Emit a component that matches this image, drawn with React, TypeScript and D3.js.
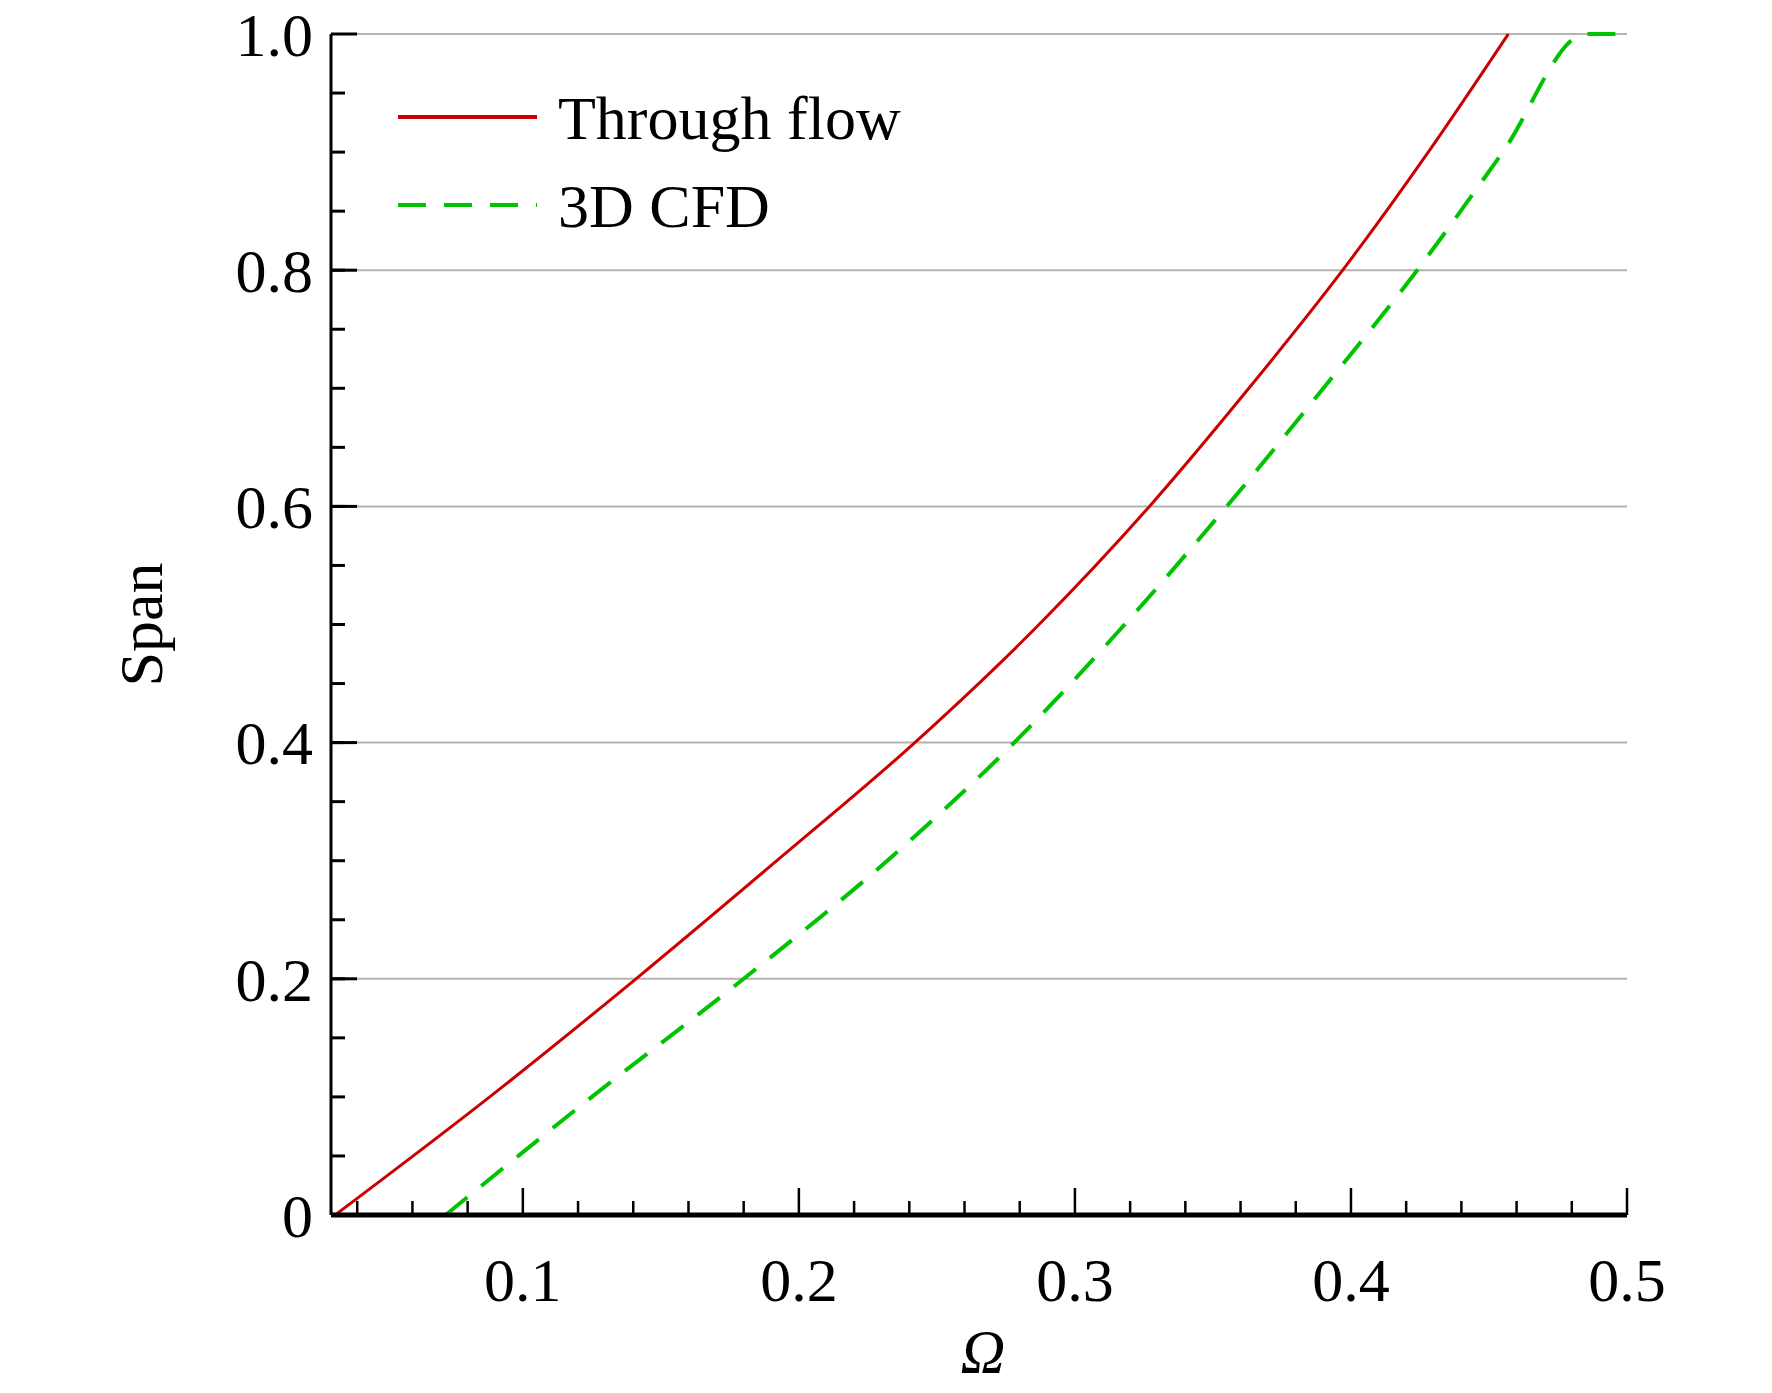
import * as d3 from "d3";
import React from "react";

const throughSpan = [0, 0.1, 0.2, 0.3, 0.4, 0.5, 0.6, 0.7, 0.8, 0.9, 1.0];
const throughOmega = [0.032, 0.088, 0.141, 0.192, 0.242, 0.287, 0.327, 0.363, 0.397, 0.428, 0.457];
const cfdSpan = [0, 0.1, 0.2, 0.3, 0.4, 0.5, 0.6, 0.7, 0.8, 0.9, 1.0, 1.0];
const cfdOmega = [0.072, 0.125, 0.18, 0.232, 0.278, 0.318, 0.355, 0.39, 0.424, 0.455, 0.485, 0.5];
const xTicks = [0.1, 0.2, 0.3, 0.4, 0.5];
const yTicks = [0, 0.2, 0.4, 0.6, 0.8, 1.0];

const W = 1772, H = 1393;
const left = 331, right = 1627, top = 34, bottom = 1215;
const font = "'Liberation Serif', 'Times New Roman', serif";

export default function App() {
  const x = d3.scaleLinear([0.0305, 0.5], [left, right]);
  const y = d3.scaleLinear([0, 1], [bottom, top]);
  const line = d3.line<[number, number]>().x((d) => x(d[0])).y((d) => y(d[1])).curve(d3.curveMonotoneX);
  const red = line(throughOmega.map((o, i) => [o, throughSpan[i]]) as [number, number][])!;
  const green = line(cfdOmega.map((o, i) => [o, cfdSpan[i]]) as [number, number][])!;
  const xMinor = d3.range(0.04, 0.5001, 0.02).filter((v) => Math.abs(v * 10 - Math.round(v * 10)) > 1e-6);
  const yMinor = d3.range(0.05, 1.0, 0.05);
  return (
    <svg width={W} height={H} style={{ display: "block", margin: -8 }} fontFamily={font}>
      <rect width={W} height={H} fill="white" />
      {yTicks.filter((t) => t > 0).map((t) => (
        <line key={t} x1={left} x2={right} y1={y(t)} y2={y(t)} stroke="#b3b3b3" strokeWidth={2} />
      ))}
      <path d={red} fill="none" stroke="#cc0000" strokeWidth={3} />
      <path d={green} fill="none" stroke="#00c400" strokeWidth={4} strokeDasharray="28 18" />
      {/* axes */}
      <line x1={left} x2={left} y1={top} y2={bottom} stroke="black" strokeWidth={3} />
      <line x1={left} x2={right} y1={bottom} y2={bottom} stroke="black" strokeWidth={5} />
      {yMinor.map((t) => (
        <line key={t} x1={left} x2={left + 14} y1={y(t)} y2={y(t)} stroke="black" strokeWidth={3} />
      ))}
      {yTicks.map((t) => (
        <g key={t}>
          <line x1={left} x2={left + 26} y1={y(t)} y2={y(t)} stroke="black" strokeWidth={3} />
          <text x={left - 18} y={y(t)} dy="0.35em" textAnchor="end" fontSize={62}>
            {t === 0 ? "0" : t.toFixed(1)}
          </text>
        </g>
      ))}
      {xMinor.map((t) => (
        <line key={t} x1={x(t)} x2={x(t)} y1={bottom} y2={bottom - 14} stroke="black" strokeWidth={2.5} />
      ))}
      {xTicks.map((t) => (
        <g key={t}>
          <line x1={x(t)} x2={x(t)} y1={bottom} y2={bottom - 27} stroke="black" strokeWidth={2.5} />
          <text x={x(t)} y={bottom + 86} textAnchor="middle" fontSize={62}>{t.toFixed(1)}</text>
        </g>
      ))}
      <text transform={`translate(162,${(top + bottom) / 2}) rotate(-90)`} textAnchor="middle" fontSize={62}>Span</text>
      <text x={983} y={1372} textAnchor="middle" fontSize={62} fontStyle="italic">Ω</text>
      {/* legend */}
      <line x1={398} x2={537} y1={117} y2={117} stroke="#cc0000" strokeWidth={4} />
      <text x={558} y={117} dy="0.35em" fontSize={62}>Through flow</text>
      <line x1={398} x2={537} y1={205} y2={205} stroke="#00c400" strokeWidth={4} strokeDasharray="28 18" />
      <text x={558} y={205} dy="0.35em" fontSize={62}>3D CFD</text>
    </svg>
  );
}
